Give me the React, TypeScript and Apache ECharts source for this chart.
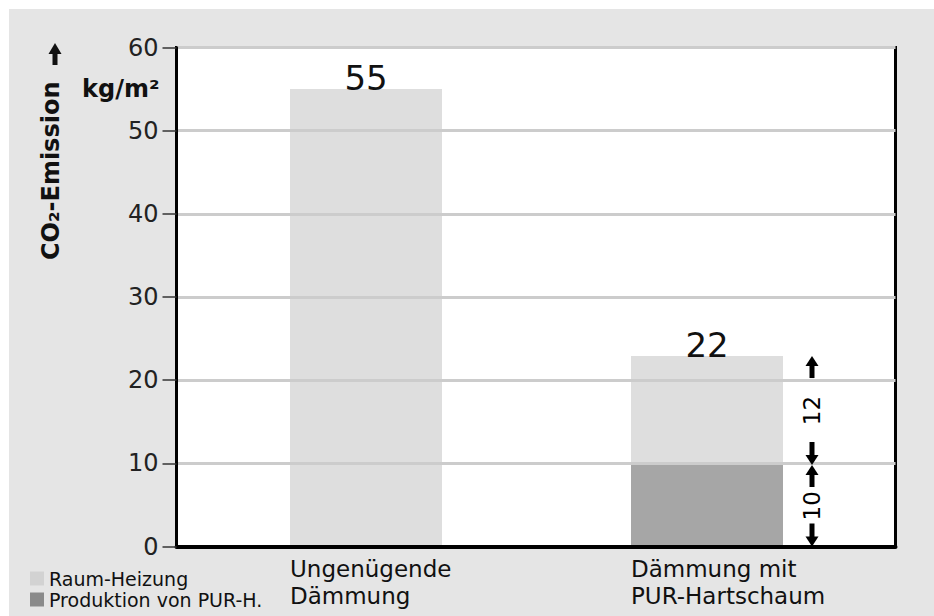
import React, { useEffect, useRef } from "react";
import * as echarts from "echarts";

const categories = ["Ungenügende\nDämmung", "Dämmung mit\nPUR-Hartschaum"];
const heatingValues = [55, 13.1];
const productionValues = [0, 9.8];
const totalLabels = ["55", "22"];
const dimensionLabels = ["10", "12"];
const seriesNames = ["Raum-Heizung", "Produktion von PUR-H."];
const yMin = 0;
const yMax = 60;
const yInterval = 10;

const FONT = "DejaVu Sans";

export default function App() {
  const ref = useRef<HTMLDivElement>(null);

  useEffect(() => {
    if (!ref.current) return;
    const chart = echarts.init(ref.current, undefined, { renderer: "svg" });

    // dimension segments for second category: [catIndex, low, high]
    const dimData = [
      [1, 0, productionValues[1]],
      [1, productionValues[1], productionValues[1] + heatingValues[1]],
    ];

    const option: any = {
      animation: false,
      backgroundColor: "#e5e5e5",
      grid: [
        {
          left: 167.5,
          top: 38.5,
          right: 38.5,
          bottom: 69.5,
          show: true,
          backgroundColor: "#ffffff",
          borderColor: "#000000",
          borderWidth: 3,
          containLabel: false,
        },
        {
          left: 186.5,
          top: 38.5,
          right: 56.5,
          bottom: 69.5,
          show: false,
          containLabel: false,
        },
      ],
      xAxis: [
        {
          gridIndex: 0,
          type: "value",
          min: 0,
          max: 1,
          z: 3,
          axisLine: { show: true, lineStyle: { color: "#000", width: 4 } },
          axisTick: { show: false },
          axisLabel: { show: false },
          splitLine: { show: false },
        },
        {
          gridIndex: 1,
          type: "category",
          data: categories,
          axisLine: { show: false },
          axisTick: { show: false },
          axisLabel: {
            margin: 9,
            align: "center",
            formatter: (v: string) =>
              v
                .split("\n")
                .map((s) => `{a|${s}}`)
                .join("\n"),
            rich: {
              a: {
                width: 152,
                align: "left",
                fontSize: 23,
                lineHeight: 27,
                fontFamily: FONT,
                color: "#111",
              },
            },
          },
        },
      ],
      yAxis: [
        {
          gridIndex: 0,
          type: "value",
          min: yMin,
          max: yMax,
          interval: yInterval,
          z: 3,
          axisLine: { show: true, lineStyle: { color: "#000", width: 3 } },
          axisTick: {
            show: true,
            inside: false,
            length: 14,
            lineStyle: { color: "#333", width: 1.5 },
          },
          axisLabel: {
            margin: 18,
            fontSize: 24,
            fontFamily: FONT,
            color: "#222",
          },
          splitLine: {
            show: true,
            lineStyle: { color: "#cccccc", width: 3 },
          },
        },
        {
          gridIndex: 1,
          type: "value",
          min: yMin,
          max: yMax,
          interval: yInterval,
          show: false,
          splitLine: { show: false },
        },
      ],
      legend: {
        orient: "vertical",
        left: 21,
        top: 560,
        itemWidth: 14,
        itemHeight: 14,
        itemGap: 2,
        icon: "rect",
        padding: 0,
        textStyle: { fontSize: 19, fontFamily: FONT, color: "#111" },
        data: [
          { name: seriesNames[0], itemStyle: { color: "#d2d2d2" } },
          { name: seriesNames[1], itemStyle: { color: "#8a8a8a" } },
        ],
      },
      graphic: [
        {
          type: "text",
          x: 42,
          y: 251,
          rotation: Math.PI / 2,
          style: {
            text: "CO₂-Emission",
            textAlign: "left",
            textVerticalAlign: "middle",
            font: `bold 24px "${FONT}"`,
            fill: "#111",
          },
        },
        {
          type: "polygon",
          shape: {
            points: [
              [46, 34],
              [39.5, 45],
              [52.5, 45],
            ],
          },
          style: { fill: "#111" },
        },
        {
          type: "rect",
          shape: { x: 43.5, y: 44, width: 5, height: 12 },
          style: { fill: "#111" },
        },
        {
          type: "text",
          x: 73,
          y: 80,
          style: {
            text: "kg/m²",
            textAlign: "left",
            textVerticalAlign: "middle",
            font: `bold 24px "${FONT}"`,
            fill: "#111",
          },
        },
      ],
      series: [
        {
          name: seriesNames[1],
          type: "bar",
          xAxisIndex: 1,
          yAxisIndex: 1,
          stack: "total",
          barWidth: 152,
          itemStyle: { color: "#a6a6a6" },
          data: productionValues,
          z: 2,
        },
        {
          name: seriesNames[0],
          type: "bar",
          xAxisIndex: 1,
          yAxisIndex: 1,
          stack: "total",
          barWidth: 152,
          itemStyle: { color: "#dedede" },
          data: heatingValues,
          z: 2,
          label: {
            show: true,
            position: "top",
            distance: -6,
            fontSize: 34,
            fontFamily: FONT,
            color: "#111",
            formatter: (p: any) => totalLabels[p.dataIndex],
          },
        },
        {
          type: "custom",
          xAxisIndex: 1,
          yAxisIndex: 1,
          z: 10,
          silent: true,
          encode: { x: 0, y: [1, 2] },
          data: dimData,
          renderItem: (params: any, api: any) => {
            const cat = api.value(0);
            const x = api.coord([cat, 0])[0] + 105;
            const yLo = api.coord([cat, api.value(1)])[1];
            const yHi = api.coord([cat, api.value(2)])[1];
            const L = 23;
            const hw = 6.5;
            const hh = 10;
            const sw = 2.5;
            return {
              type: "group",
              children: [
                {
                  type: "polygon",
                  shape: {
                    points: [
                      [x, yHi],
                      [x - hw, yHi + hh],
                      [x + hw, yHi + hh],
                    ],
                  },
                  style: { fill: "#000" },
                },
                {
                  type: "rect",
                  shape: { x: x - sw, y: yHi + hh - 1, width: 2 * sw, height: L - hh },
                  style: { fill: "#000" },
                },
                {
                  type: "polygon",
                  shape: {
                    points: [
                      [x, yLo],
                      [x - hw, yLo - hh],
                      [x + hw, yLo - hh],
                    ],
                  },
                  style: { fill: "#000" },
                },
                {
                  type: "rect",
                  shape: { x: x - sw, y: yLo - L, width: 2 * sw, height: L - hh + 1 },
                  style: { fill: "#000" },
                },
                {
                  type: "text",
                  x: x,
                  y: (yLo + yHi) / 2,
                  rotation: Math.PI / 2,
                  style: {
                    text: dimensionLabels[params.dataIndex],
                    textAlign: "center",
                    textVerticalAlign: "middle",
                    font: `23px "${FONT}"`,
                    fill: "#000",
                  },
                },
              ],
            };
          },
        },
      ],
    };

    chart.setOption(option);
    return () => chart.dispose();
  }, []);

  return (
    <div
      ref={ref}
      style={{ position: "fixed", left: 9, top: 9, width: 925, height: 607 }}
    />
  );
}
